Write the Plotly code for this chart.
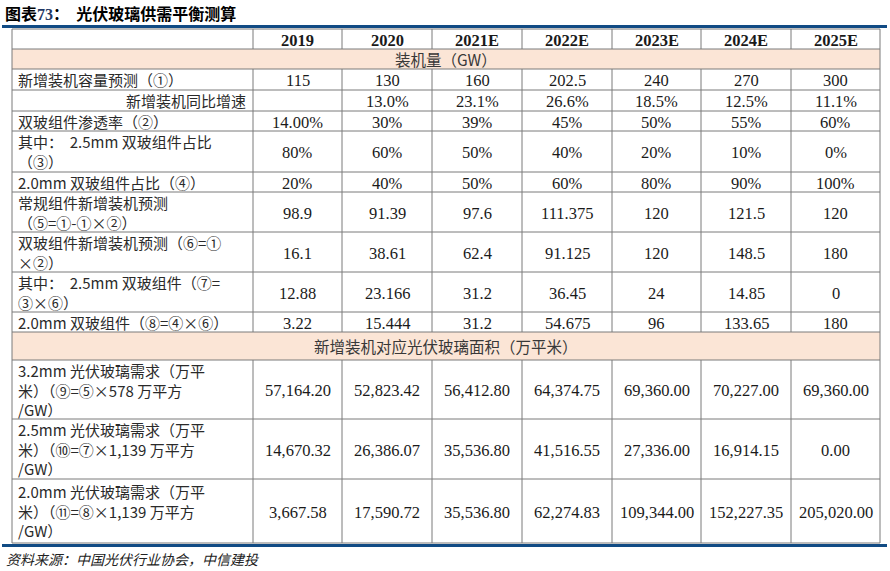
import plotly.graph_objects as go

years = ["2019", "2020", "2021E", "2022E", "2023E", "2024E", "2025E"]

capacity_gw = [115, 130, 160, 202.5, 240, 270, 300]
capacity_growth = [None, 13.0, 23.1, 26.6, 18.5, 12.5, 11.1]
bifacial_penetration = ["14.00%", "30%", "39%", "45%", "50%", "55%", "60%"]
share_25mm = [80, 60, 50, 40, 20, 10, 0]
share_20mm = [20, 40, 50, 60, 80, 90, 100]
conventional_gw = [98.9, 91.39, 97.6, 111.375, 120, 121.5, 120]
bifacial_gw = [16.1, 38.61, 62.4, 91.125, 120, 148.5, 180]
bifacial_25mm_gw = [12.88, 23.166, 31.2, 36.45, 24, 14.85, 0]
bifacial_20mm_gw = [3.22, 15.444, 31.2, 54.675, 96, 133.65, 180]
glass_32mm = [57164.20, 52823.42, 56412.80, 64374.75, 69360.00, 70227.00, 69360.00]
glass_25mm = [14670.32, 26386.07, 35536.80, 41516.55, 27336.00, 16914.15, 0.00]
glass_20mm = [3667.58, 17590.72, 35536.80, 62274.83, 109344.00, 152227.35, 205020.00]

title_no = "73"
title = "光伏玻璃供需平衡测算"
source = "资料来源：中国光伏行业协会，中信建投"
section_1 = "装机量（GW）"
section_2 = "新增装机对应光伏玻璃面积（万平米）"


def num(vals):
    return [f"{v:g}" for v in vals]


def pct(vals, fmt="{:g}%"):
    return ["" if v is None else fmt.format(v) for v in vals]


def money(vals):
    return [f"{v:,.2f}" for v in vals]


# (kind, label, cells, row height, label alignment)
rows = [
    ("head", "", years, 20, "left"),
    ("section", section_1, None, 20, "center"),
    ("row", "新增装机容量预测（①）", num(capacity_gw), 21, "left"),
    ("row", "新增装机同比增速", pct(capacity_growth, "{:.1f}%"), 21, "right"),
    ("row", "双玻组件渗透率（②）", bifacial_penetration, 20, "left"),
    ("row", "其中：  2.5mm 双玻组件占比<br>（③）", pct(share_25mm), 41, "left"),
    ("row", "2.0mm 双玻组件占比（④）", pct(share_20mm), 20, "left"),
    ("row", "常规组件新增装机预测<br>（⑤=①-①×②）", num(conventional_gw), 40, "left"),
    ("row", "双玻组件新增装机预测（⑥=①<br>×②）", num(bifacial_gw), 40, "left"),
    ("row", "其中：  2.5mm 双玻组件（⑦=<br>③×⑥）", num(bifacial_25mm_gw), 40, "left"),
    ("row", "2.0mm 双玻组件（⑧=④×⑥）", num(bifacial_20mm_gw), 20, "left"),
    ("section", section_2, None, 28, "center"),
    ("row", "3.2mm 光伏玻璃需求（万平<br>米）（⑨=⑤×578 万平方<br>/GW）", money(glass_32mm), 59, "left"),
    ("row", "2.5mm 光伏玻璃需求（万平<br>米）（⑩=⑦×1,139 万平方<br>/GW）", money(glass_25mm), 60, "left"),
    ("row", "2.0mm 光伏玻璃需求（万平<br>米）（⑪=⑧×1,139 万平方<br>/GW）", money(glass_20mm), 64, "left"),
]

# ---- layout constants ----
W, H = 890, 571
col_edges = [12, 253, 342, 432, 522, 612, 701, 791, 880]
table_top = 29
grid = "#7a7a7a"
peach = "#fbe5d6"
navy = "#114b84"
cjk = "Noto Sans CJK SC"
serif = "Liberation Serif, Times New Roman, serif"

fig = go.Figure()
shapes = []
annotations = []

y = table_top
for kind, label, cells, h, align in rows:
    y0, y1 = y, y + h
    ym = (y0 + y1) / 2
    if kind == "section":
        shapes.append(dict(type="rect", x0=col_edges[0], x1=col_edges[-1], y0=y0, y1=y1,
                           fillcolor=peach, line_width=0, layer="below"))
        annotations.append(dict(x=(col_edges[0] + col_edges[-1]) / 2, y=ym, text=label,
                                showarrow=False, xanchor="center", yanchor="middle",
                                font=dict(family=cjk, size=15.5, color="#383838")))
        inner = [col_edges[0], col_edges[-1]]
    else:
        inner = col_edges
        if label:
            if align == "right":
                lx, anchor = col_edges[1] - 5, "right"
            else:
                lx, anchor = col_edges[0] + 4, "left"
            annotations.append(dict(x=lx, y=ym, text=label, showarrow=False,
                                    xanchor=anchor, yanchor="middle", align=align,
                                    font=dict(family=cjk, size=15, color="#2a2a2a")))
        for i, txt in enumerate(cells):
            cx = (col_edges[i + 1] + col_edges[i + 2]) / 2
            if kind == "head":
                txt = f"<b>{txt}</b>"
            annotations.append(dict(x=cx, y=ym + 1, text=txt, showarrow=False,
                                    xanchor="center", yanchor="middle",
                                    font=dict(family=serif, size=16.5, color="#1a1a1a")))
    for xe in inner:
        shapes.append(dict(type="line", x0=xe, x1=xe, y0=y0, y1=y1,
                           line=dict(color=grid, width=1)))
    shapes.append(dict(type="line", x0=col_edges[0], x1=col_edges[-1], y0=y0, y1=y0,
                       line=dict(color=grid, width=1)))
    y = y1
shapes.append(dict(type="line", x0=col_edges[0], x1=col_edges[-1], y0=y, y1=y,
                   line=dict(color=grid, width=1)))

# navy rules above and below the table
shapes.append(dict(type="line", x0=2, x1=887, y0=table_top - 2.5, y1=table_top - 2.5,
                   line=dict(color=navy, width=3)))
shapes.append(dict(type="line", x0=2, x1=887, y0=y + 2.5, y1=y + 2.5,
                   line=dict(color=navy, width=3)))

title_html = (f"<b>图表<span style='font-family:Liberation Serif;color:#1f3864'>{title_no}</span>"
              f"：  {title}</b>")
annotations.append(dict(x=3, y=13, text=title_html, showarrow=False,
                        xanchor="left", yanchor="middle",
                        font=dict(family=cjk, size=16, color="#000000")))
annotations.append(dict(x=4, y=y + 16, text=f"<i>{source}</i>", showarrow=False,
                        xanchor="left", yanchor="middle",
                        font=dict(family=cjk, size=14, color="#222222")))

fig.update_layout(
    width=W, height=H,
    margin=dict(l=0, r=0, t=0, b=0),
    paper_bgcolor="white", plot_bgcolor="white",
    xaxis=dict(range=[0, W], visible=False, fixedrange=True),
    yaxis=dict(range=[H, 0], visible=False, fixedrange=True),
    shapes=shapes, annotations=annotations,
    showlegend=False,
)

# the default page has an 8px body margin; drop it so the figure sits at the corner
fig.write_html("out.html", config={"displayModeBar": False},
               post_script="document.body.style.margin='0px';")
